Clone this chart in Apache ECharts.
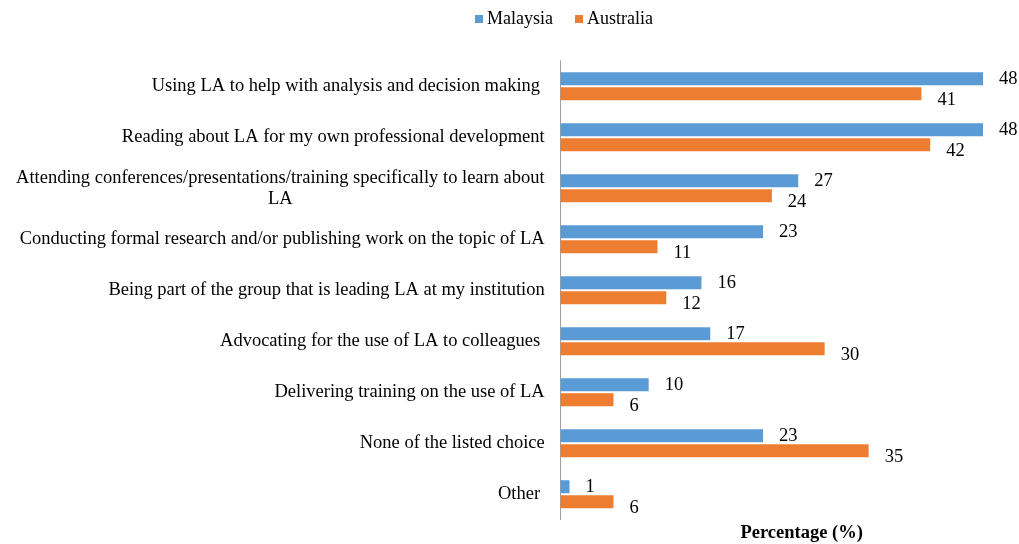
<!DOCTYPE html>
<html>
<head>
<meta charset="utf-8">
<script src="https://cdn.jsdelivr.net/npm/echarts@6/dist/echarts.min.js"></script>
<style>html,body{margin:0;padding:0;background:#fff}#c{width:1019px;height:544px}</style>
</head>
<body>
<div id="c"></div>
<script>
var categories = [
  'Using LA to help with analysis and decision making ',
  'Reading about LA for my own professional development',
  'Attending conferences/presentations/training specifically to learn about\nLA',
  'Conducting formal research and/or publishing work on the topic of LA',
  'Being part of the group that is leading LA at my institution',
  'Advocating for the use of LA to colleagues ',
  'Delivering training on the use of LA',
  'None of the listed choice',
  'Other '
];
var malaysia = [48, 48, 27, 23, 16, 17, 10, 23, 1];
var australia = [41, 42, 24, 11, 12, 30, 6, 35, 6];

var font = '"Liberation Serif", "Times New Roman", serif';
var fs = 18.5;
var chart = echarts.init(document.getElementById('c'));
chart.setOption({
  animation: false,
  textStyle: {fontFamily: font},
  legend: {
    left: 470, top: 5,
    itemWidth: 8, itemHeight: 8, itemGap: 22,
    icon: 'rect',
    textStyle: {fontFamily: font, fontSize: 18, color: '#000', padding: [0,0,0,-1]},
    data: ['Malaysia', 'Australia']
  },
  grid: {left: 560.7, right: 18.4, top: 60.7, bottom: 24.3, containLabel: false, outerBoundsMode: 'none'},
  xAxis: {
    type: 'value', min: 0, max: 50,
    axisLabel: {show: false}, axisTick: {show: false}, axisLine: {show: false},
    splitLine: {show: false},
    name: 'Percentage (%)', nameLocation: 'middle', nameGap: 4,
    nameTextStyle: {fontFamily: font, fontSize: fs, fontWeight: 'bold', color: '#000', padding: [0,0,0,42]}
  },
  yAxis: {
    type: 'category', inverse: true, data: categories,
    axisTick: {show: false},
    axisLine: {lineStyle: {color: '#a0a0a0', width: 1}},
    axisLabel: {
      margin: 16, fontSize: fs, color: '#000', fontFamily: font, lineHeight: 21,
      formatter: function (v) {
        return v.split('\n').map(function (s) { return '{c|' + s + '}'; }).join('\n');
      },
      rich: {c: {fontSize: fs, fontFamily: font, color: '#000', align: 'center', lineHeight: 21}}
    }
  },
  series: [
    {
      name: 'Malaysia', type: 'bar', data: malaysia,
      barWidth: 13, barGap: '15%',
      itemStyle: {color: '#5b9bd5'},
      label: {show: true, position: 'right', distance: 16, color: '#000', fontSize: fs, fontFamily: font}
    },
    {
      name: 'Australia', type: 'bar', data: australia,
      barWidth: 13,
      itemStyle: {color: '#ed7d31'},
      label: {show: true, position: 'right', distance: 16, offset: [0, 6], color: '#000', fontSize: fs, fontFamily: font}
    }
  ]
});
</script>
</body>
</html>
